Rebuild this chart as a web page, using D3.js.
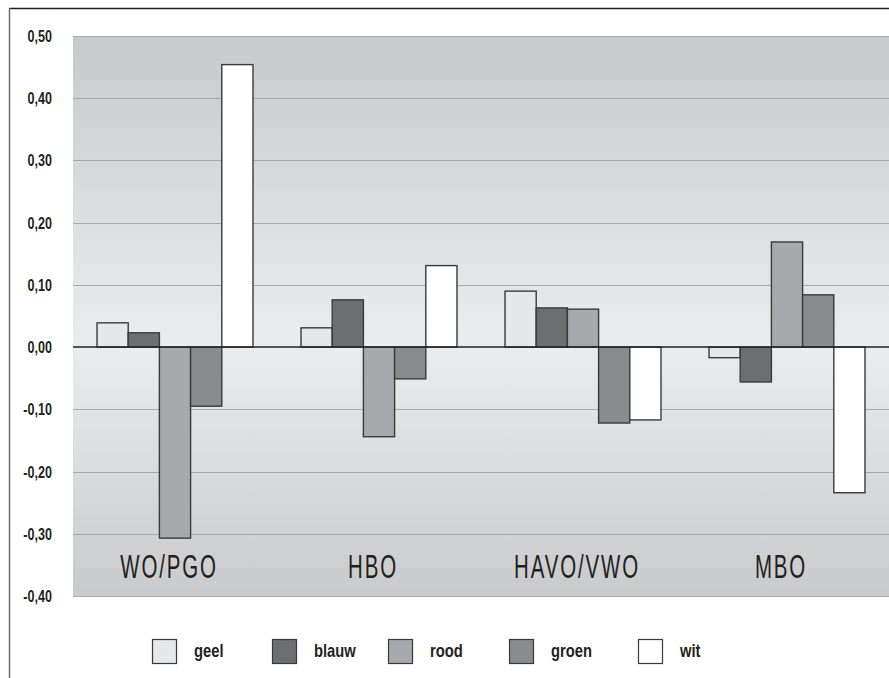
<!DOCTYPE html>
<html>
<head>
<meta charset="utf-8">
<script src="https://cdn.jsdelivr.net/npm/d3@7"></script>
<style>
  html, body { margin: 0; padding: 0; background: #ffffff; }
  svg { display: block; }
  text { font-family: "Liberation Sans", Arial, sans-serif; fill: #231f20; }
</style>
</head>
<body>
<svg id="chart" width="889" height="678"></svg>
<script>
// Education levels on the x axis
const categories = ["WO/PGO", "HBO", "HAVO/VWO", "MBO"];
// Colour groups (legend order)
const seriesNames = ["geel", "blauw", "rood", "groen", "wit"];
// Values per colour group, one entry per education level
const geel  = [0.039, 0.031, 0.090, -0.017];
const blauw = [0.023, 0.076, 0.063, -0.056];
const rood  = [-0.307, -0.144, 0.061, 0.169];
const groen = [-0.095, -0.051, -0.122, 0.084];
const wit   = [0.454, 0.131, -0.117, -0.234];
// Y axis ticks and their printed labels
const yTicks = [-0.4, -0.3, -0.2, -0.1, 0, 0.1, 0.2, 0.3, 0.4, 0.5];
const yTickLabels = ["-0,40", "-0,30", "-0,20", "-0,10", "0,00", "0,10", "0,20", "0,30", "0,40", "0,50"];

const seriesValues = { geel, blauw, rood, groen, wit };
const fills = { geel: "#e6e7e8", blauw: "#6d6e70", rood: "#a7a9ac", groen: "#8a8b8d", wit: "#ffffff" };

const svg = d3.select("#chart");
const W = 889, H = 678;
const plot = { left: 73, right: 889, top: 36, bottom: 596 };

// outer frame (top and left rules)
svg.append("line").attr("x1", 9.5).attr("x2", W).attr("y1", 8.5).attr("y2", 8.5)
  .attr("stroke", "#231f20").attr("stroke-width", 1.5);
svg.append("line").attr("x1", 9.5).attr("x2", 9.5).attr("y1", 8).attr("y2", H)
  .attr("stroke", "#6d6e71").attr("stroke-width", 1.5);

// scales
const y = d3.scaleLinear().domain([-0.4, 0.5]).range([plot.bottom, plot.top]);
const x0 = d3.scaleBand().domain(categories).range([plot.left, plot.right]).paddingInner(0).paddingOuter(0);
const x1 = d3.scaleBand().domain(seriesNames).range([0, x0.bandwidth()]).paddingInner(0).paddingOuter(0.77);

// background gradient
const defs = svg.append("defs");
const grad = defs.append("linearGradient").attr("id", "bg").attr("x1", 0).attr("x2", 0).attr("y1", 0).attr("y2", 1);
grad.append("stop").attr("offset", "0%").attr("stop-color", "#c8c9cb");
grad.append("stop").attr("offset", "55%").attr("stop-color", "#ebeced");
grad.append("stop").attr("offset", "100%").attr("stop-color", "#c9cacc");

svg.append("rect")
  .attr("x", plot.left).attr("y", plot.top)
  .attr("width", plot.right - plot.left).attr("height", plot.bottom - plot.top)
  .attr("fill", "url(#bg)");

// gridlines
svg.append("g").selectAll("line").data(yTicks.filter(d => d !== 0)).join("line")
  .attr("x1", plot.left).attr("x2", plot.right)
  .attr("y1", d => Math.round(y(d)) + 0.5).attr("y2", d => Math.round(y(d)) + 0.5)
  .attr("stroke", "#a7a9ac").attr("stroke-width", 1.2);

// y axis labels (condensed by horizontal scaling)
const yAxis = d3.axisLeft(y).tickValues(yTicks).tickSize(0).tickPadding(0)
  .tickFormat((d, i) => yTickLabels[i]);
const yG = svg.append("g").attr("transform", `translate(52,0)`).call(yAxis);
yG.select(".domain").remove();
yG.selectAll(".tick").each(function () {
  const t = d3.select(this).select("text");
  t.attr("font-family", "Liberation Sans, Arial, sans-serif")
    .attr("font-size", 17).attr("font-weight", "bold")
    .attr("fill", "#231f20").attr("x", 0).attr("dy", "0.32em")
    .attr("transform", "scale(0.74,1)");
});

// bars
const rows = categories.map((c, i) => ({ cat: c, vals: seriesNames.map(s => ({ s, v: seriesValues[s][i] })) }));
const groups = svg.append("g").selectAll("g").data(rows).join("g")
  .attr("transform", d => `translate(${x0(d.cat)},0)`);
groups.selectAll("rect").data(d => d.vals).join("rect")
  .attr("x", d => x1(d.s))
  .attr("width", x1.bandwidth())
  .attr("y", d => y(Math.max(0, d.v)))
  .attr("height", d => Math.abs(y(d.v) - y(0)))
  .attr("fill", d => fills[d.s])
  .attr("stroke", "#3a3a3a").attr("stroke-width", 1.4);

// zero line
svg.append("line").attr("x1", plot.left).attr("x2", plot.right)
  .attr("y1", y(0)).attr("y2", y(0))
  .attr("stroke", "#231f20").attr("stroke-width", 1.5);

// category labels inside the plot, near the bottom
svg.append("g").selectAll("text").data(categories).join("text")
  .attr("transform", d => `translate(${x0(d) + x0.bandwidth() / 2 - 6},578) scale(0.62,1)`)
  .attr("text-anchor", "middle")
  .attr("font-size", 33)
  .attr("letter-spacing", 3)
  .text(d => d);

// legend
const legendX = [152, 272, 388, 509, 638];
const leg = svg.append("g").selectAll("g").data(seriesNames).join("g")
  .attr("transform", (d, i) => `translate(${legendX[i]},639)`);
leg.append("rect").attr("x", 0.5).attr("y", 0.5).attr("width", 24).attr("height", 24)
  .attr("fill", d => fills[d]).attr("stroke", "#3a3a3a").attr("stroke-width", 1.2);
leg.append("text").attr("transform", "translate(42,18) scale(0.82,1)")
  .attr("font-size", 18).attr("font-weight", "bold")
  .text(d => d);
</script>
</body>
</html>
